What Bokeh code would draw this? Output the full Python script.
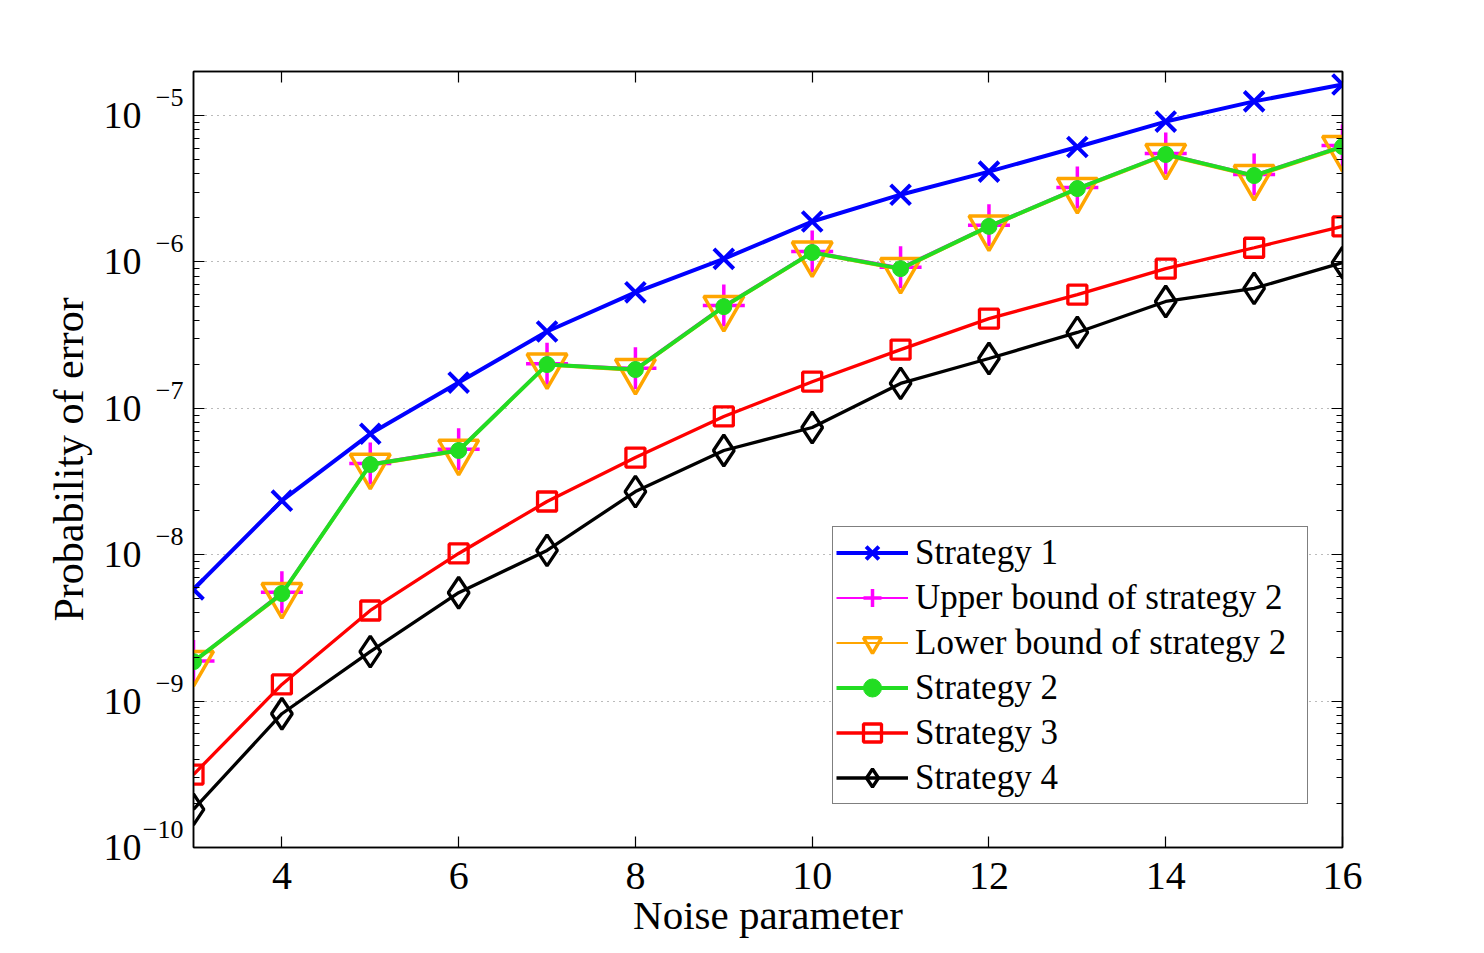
import math

from bokeh.plotting import figure
from bokeh.models import (FixedTicker, LogAxis, LinearAxis, Legend, LegendItem,
                          CustomJSTickFormatter, Range1d, LogScale)
from bokeh.embed import file_html
from bokeh.resources import INLINE

# ---- data -------------------------------------------------------------
noise = [3, 4, 5, 6, 7, 8, 9, 10, 11, 12, 13, 14, 15, 16]

strategy1 = [5.8e-9, 2.34e-8, 6.7e-8, 1.5e-7, 3.35e-7, 6.2e-7, 1.05e-6,
             1.89e-6, 2.88e-6, 4.14e-6, 6.1e-6, 9.1e-6, 1.25e-5, 1.63e-5]
upper2 = [1.88e-9, 5.55e-9, 4.2e-8, 5.25e-8, 2.02e-7, 1.88e-7, 5.05e-7,
          1.18e-6, 9.2e-7, 1.78e-6, 3.22e-6, 5.5e-6, 3.95e-6, 6.25e-6]
lower2 = [1.82e-9, 5.3e-9, 4.05e-8, 5.05e-8, 1.96e-7, 1.8e-7, 4.85e-7,
          1.14e-6, 8.8e-7, 1.72e-6, 3.1e-6, 5.3e-6, 3.8e-6, 6.0e-6]
strategy2 = [1.86e-9, 5.43e-9, 4.13e-8, 5.15e-8, 1.99e-7, 1.84e-7, 4.95e-7,
             1.16e-6, 9.0e-7, 1.75e-6, 3.17e-6, 5.42e-6, 3.89e-6, 6.14e-6]
strategy3 = [3.15e-10, 1.3e-9, 4.16e-9, 1.02e-8, 2.31e-8, 4.61e-8, 8.8e-8,
             1.52e-7, 2.52e-7, 4.1e-7, 5.98e-7, 9.0e-7, 1.25e-6, 1.75e-6]
strategy4 = [1.82e-10, 8.2e-10, 2.18e-9, 5.5e-9, 1.07e-8, 2.7e-8, 5.15e-8,
             7.4e-8, 1.48e-7, 2.19e-7, 3.3e-7, 5.37e-7, 6.6e-7, 9.9e-7]

x_ticks = [4, 6, 8, 10, 12, 14, 16]
y_exponents = [-10, -9, -8, -7, -6, -5]
y_min, y_max = 1e-10, 2e-5

FONT = "Liberation Serif"
FRAME_H = 953 - 71 - 106

# ---- figure -----------------------------------------------------------
p = figure(width=1484, height=953, y_axis_type="log",
           x_range=Range1d(3, 16), y_range=Range1d(y_min, y_max),
           output_backend="svg", toolbar_location=None,
           min_border_left=193, min_border_right=142,
           min_border_top=71, min_border_bottom=106)
p.background_fill_color = "white"
p.border_fill_color = "white"
p.outline_line_color = "black"
p.outline_line_width = 1.5

major_y = [10.0 ** e for e in y_exponents]
minor_y = [m * 10.0 ** e for e in y_exponents for m in range(2, 10)]
y_ticker = FixedTicker(ticks=major_y, minor_ticks=minor_y)
y_major_only = FixedTicker(ticks=major_y, minor_ticks=[])
x_ticker = FixedTicker(ticks=x_ticks, minor_ticks=[])
blank = CustomJSTickFormatter(code="return ''")


def style_axis(ax):
    ax.axis_line_color = "black"
    ax.axis_line_width = 1.5
    ax.major_tick_line_color = "black"
    ax.minor_tick_line_color = "black"
    ax.major_tick_line_width = 1.2
    ax.minor_tick_line_width = 1.2
    ax.major_tick_in = 11
    ax.major_tick_out = 0
    ax.minor_tick_in = 6
    ax.minor_tick_out = 0


def label_only(ax):
    ax.axis_line_color = None
    ax.major_tick_line_color = None
    ax.minor_tick_line_color = None
    ax.major_tick_in = 0
    ax.major_tick_out = 0
    ax.minor_tick_in = 0
    ax.minor_tick_out = 0


# bottom axis
xa = p.xaxis[0]
xa.ticker = x_ticker
style_axis(xa)
xa.major_label_text_font = FONT
xa.major_label_text_font_size = "40px"
xa.major_label_text_color = "black"
xa.major_label_standoff = 15
xa.axis_label = "Noise parameter"
xa.axis_label_text_font = FONT
xa.axis_label_text_font_size = "41px"
xa.axis_label_text_font_style = "normal"
xa.axis_label_text_color = "black"
xa.axis_label_standoff = 0

# left edge: tick marks only
ya = p.yaxis[0]
ya.ticker = y_ticker
ya.formatter = blank
style_axis(ya)
ya.major_label_standoff = 0

# decade labels: a raised exponent column next to a column of "10"s.
# The exponent axis runs on a copy of the y range shifted by a few pixels.
raise_px = 18
span_dec = math.log10(y_max / y_min)
k = 10 ** (-raise_px * span_dec / FRAME_H)
p.extra_y_ranges = {"exp": Range1d(y_min * k, y_max * k)}
p.extra_y_scales = {"exp": LogScale()}

exp_axis = LogAxis(y_range_name="exp", ticker=y_major_only,
                   formatter=CustomJSTickFormatter(
                       code="return '\\u2212' + String(-Math.round(Math.log10(tick)));"))
label_only(exp_axis)
exp_axis.major_label_text_font = FONT
exp_axis.major_label_text_font_size = "26px"
exp_axis.major_label_text_color = "black"
exp_axis.major_label_standoff = 10
p.add_layout(exp_axis, "left")

base_axis = LogAxis(ticker=y_major_only,
                    formatter=CustomJSTickFormatter(code="return '10';"))
label_only(base_axis)
base_axis.major_label_text_font = FONT
base_axis.major_label_text_font_size = "38px"
base_axis.major_label_text_color = "black"
base_axis.major_label_standoff = -2
base_axis.axis_label = "Probability of error"
base_axis.axis_label_text_font = FONT
base_axis.axis_label_text_font_size = "42px"
base_axis.axis_label_text_font_style = "normal"
base_axis.axis_label_text_color = "black"
base_axis.axis_label_standoff = 9
p.add_layout(base_axis, "left")

# mirrored tick marks on the top and right edges
top = LinearAxis(ticker=x_ticker, formatter=blank)
style_axis(top)
top.major_label_standoff = 0
p.add_layout(top, "above")
right = LogAxis(ticker=y_ticker, formatter=blank)
style_axis(right)
right.major_label_standoff = 0
p.add_layout(right, "right")

p.xgrid.visible = False
p.ygrid.ticker = y_major_only
p.ygrid.grid_line_color = "#555555"
p.ygrid.grid_line_alpha = 0.8
p.ygrid.grid_line_width = 1
p.ygrid.grid_line_dash = "1 5"

# ---- series -----------------------------------------------------------
items = []

l1 = p.line(noise, strategy1, line_color="#0000ff", line_width=4)
m1 = p.scatter(noise, strategy1, marker="x", size=28, line_color="#0000ff",
               line_width=4)
items.append(LegendItem(label="Strategy 1", renderers=[l1, m1]))

lu = p.line(noise, upper2, line_color="#ff00ff", line_width=2)
mu = p.scatter(noise, upper2, marker="cross", size=42, line_color="#ff00ff",
               line_width=3.5)
items.append(LegendItem(label="Upper bound of strategy 2", renderers=[lu, mu]))

ll = p.line(noise, lower2, line_color="#ffa500", line_width=2)
ml = p.scatter(noise, lower2, marker="inverted_triangle", size=40,
               line_color="#ffa500", fill_color=None, line_width=3.5)
items.append(LegendItem(label="Lower bound of strategy 2", renderers=[ll, ml]))

l2 = p.line(noise, strategy2, line_color="#22dd22", line_width=4)
m2 = p.scatter(noise, strategy2, marker="circle", size=16,
               line_color="#22dd22", fill_color="#22dd22", line_width=1)
items.append(LegendItem(label="Strategy 2", renderers=[l2, m2]))

l3 = p.line(noise, strategy3, line_color="#ff0000", line_width=3.3)
m3 = p.scatter(noise, strategy3, marker="square", size=19,
               line_color="#ff0000", fill_color=None, line_width=3.3)
items.append(LegendItem(label="Strategy 3", renderers=[l3, m3]))

l4 = p.line(noise, strategy4, line_color="black", line_width=3.3)
m4 = p.scatter(noise, strategy4, marker="diamond", size=31,
               line_color="black", fill_color=None, line_width=3.3)
items.append(LegendItem(label="Strategy 4", renderers=[l4, m4]))

legend = Legend(items=items, location=(639, 43), margin=0, padding=3,
                spacing=0, glyph_width=72, glyph_height=45, label_height=45,
                label_width=389, label_standoff=7,
                label_text_font=FONT, label_text_font_size="35px",
                label_text_color="black", label_text_baseline="middle",
                border_line_color="black", border_line_width=1.2,
                background_fill_color="white", background_fill_alpha=1.0)
p.add_layout(legend, "center")

open("out.html", "w").write(file_html(p, INLINE))
